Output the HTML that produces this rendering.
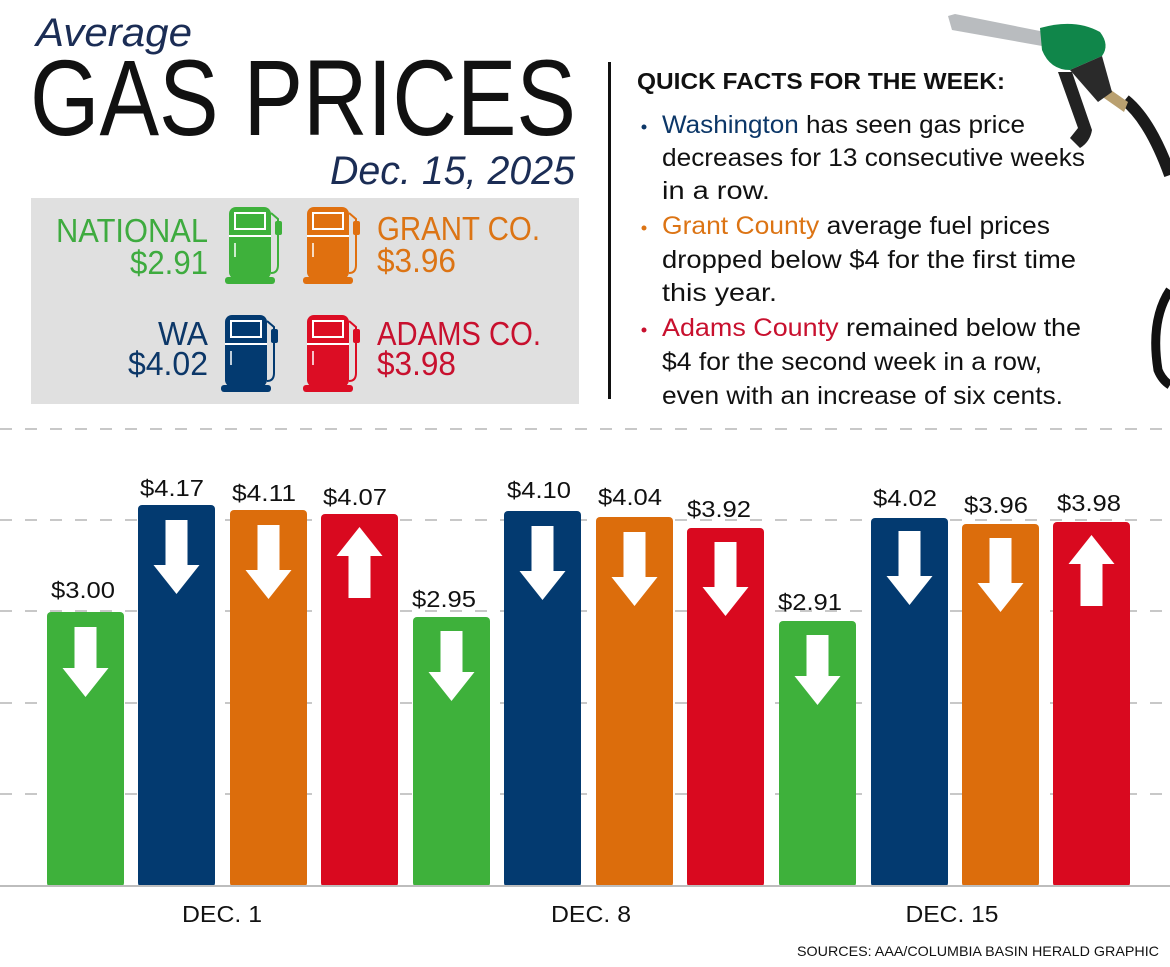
<!DOCTYPE html>
<html><head><meta charset="utf-8"><style>
html,body{margin:0;padding:0;background:#fff;}
svg{display:block;font-family:"Liberation Sans Narrow","Liberation Sans",sans-serif;}
</style></head><body>
<svg width="1170" height="967" viewBox="0 0 1170 967" xmlns="http://www.w3.org/2000/svg">
<defs>
<g id="pump">
  <rect x="4" y="0" width="42" height="72" rx="7" fill="currentColor"/>
  <rect x="10" y="6" width="30" height="16" fill="none" stroke="#fff" stroke-width="2"/>
  <line x1="4" y1="29" x2="46" y2="29" stroke="#fff" stroke-width="2"/>
  <line x1="10" y1="36" x2="10" y2="50" stroke="#fff" stroke-width="1.5"/>
  <rect x="0" y="70" width="50" height="7" rx="3" fill="currentColor"/>
  <path d="M46 6 L53 12 L53 58 Q53 66 46 66" fill="none" stroke="currentColor" stroke-width="2"/>
  <rect x="50" y="14" width="7" height="14" rx="2" fill="currentColor"/>
</g>
</defs>

<!-- Header -->
<text x="36" y="46" font-size="40" font-style="italic" fill="#1b2d55" font-family="Liberation Sans, sans-serif" textLength="156" lengthAdjust="spacingAndGlyphs">Average</text>
<text x="30" y="135" font-size="108" fill="#111" font-family="Liberation Sans, sans-serif" textLength="546" lengthAdjust="spacingAndGlyphs">GAS PRICES</text>
<text x="575" y="184" font-size="40" font-style="italic" fill="#1b2d55" text-anchor="end" font-family="Liberation Sans, sans-serif" textLength="245" lengthAdjust="spacingAndGlyphs">Dec. 15, 2025</text>

<!-- Gray box -->
<rect x="31" y="198" width="548" height="206" fill="#e0e0e0"/>
<text x="208" y="242" font-size="33" fill="#3eab3f" text-anchor="end" textLength="152" lengthAdjust="spacingAndGlyphs">NATIONAL</text>
<text x="208" y="274" font-size="33" fill="#3eab3f" text-anchor="end" textLength="78" lengthAdjust="spacingAndGlyphs">$2.91</text>
<text x="208" y="345" font-size="33" fill="#0c3768" text-anchor="end" textLength="50" lengthAdjust="spacingAndGlyphs">WA</text>
<text x="208" y="375" font-size="33" fill="#0c3768" text-anchor="end" textLength="80" lengthAdjust="spacingAndGlyphs">$4.02</text>
<text x="377" y="240" font-size="33" fill="#dc7414" textLength="163" lengthAdjust="spacingAndGlyphs">GRANT CO.</text>
<text x="377" y="272" font-size="33" fill="#dc7414" textLength="79" lengthAdjust="spacingAndGlyphs">$3.96</text>
<text x="377" y="345" font-size="33" fill="#c8102e" textLength="164" lengthAdjust="spacingAndGlyphs">ADAMS CO.</text>
<text x="377" y="375" font-size="33" fill="#c8102e" textLength="79" lengthAdjust="spacingAndGlyphs">$3.98</text>
<use href="#pump" x="225" y="207" style="color:#3eb13b"/>
<use href="#pump" x="303" y="207" style="color:#e0700f"/>
<use href="#pump" x="221" y="315" style="color:#033a70"/>
<use href="#pump" x="303" y="315" style="color:#dc0d24"/>

<!-- divider -->
<rect x="608" y="62" width="3" height="337" fill="#111"/>

<!-- Quick facts -->
<text x="637" y="89" font-size="23" font-weight="bold" fill="#111" textLength="368" lengthAdjust="spacingAndGlyphs">QUICK FACTS FOR THE WEEK:</text>
<g font-size="25" fill="#111">
<circle cx="644" cy="127" r="2.5" fill="#0c3768"/>
<text x="662" y="133" textLength="363" lengthAdjust="spacingAndGlyphs"><tspan fill="#0c3768">Washington</tspan> has seen gas price</text>
<text x="662" y="166" textLength="423" lengthAdjust="spacingAndGlyphs">decreases for 13 consecutive weeks</text>
<text x="662" y="199" textLength="108" lengthAdjust="spacingAndGlyphs">in a row.</text>
<circle cx="644" cy="228" r="2.5" fill="#dc7414"/>
<text x="662" y="234" textLength="388" lengthAdjust="spacingAndGlyphs"><tspan fill="#dc7414">Grant County</tspan> average fuel prices</text>
<text x="662" y="268" textLength="414" lengthAdjust="spacingAndGlyphs">dropped below $4 for the first time</text>
<text x="662" y="301" textLength="115" lengthAdjust="spacingAndGlyphs">this year.</text>
<circle cx="644" cy="330" r="2.5" fill="#c8102e"/>
<text x="662" y="336" textLength="419" lengthAdjust="spacingAndGlyphs"><tspan fill="#c8102e">Adams County</tspan> remained below the</text>
<text x="662" y="370" textLength="380" lengthAdjust="spacingAndGlyphs">$4 for the second week in a row,</text>
<text x="662" y="404" textLength="401" lengthAdjust="spacingAndGlyphs">even with an increase of six cents.</text>
</g>

<!-- Nozzle illustration -->
<path d="M1125 100 Q1150 120 1170 175" fill="none" stroke="#1a1a1a" stroke-width="12"/>
<path d="M1108 88 L1128 102 L1124 112 L1104 98 Z" fill="#b9a070"/>
<path d="M948 16 L955 14 L1045 32 L1042 46 L952 30 Z" fill="#b9bcbf"/>
<path d="M1040 28 Q1075 18 1100 32 Q1110 45 1102 56 L1070 70 Q1050 70 1042 50 Z" fill="#10864a"/>
<path d="M1070 70 L1102 56 L1112 92 L1098 102 Z" fill="#2a2a2a"/>
<path d="M1058 72 L1072 72 L1092 130 Q1090 142 1080 148 L1070 138 L1078 128 Z" fill="#222"/>
<path d="M1170 290 Q1150 320 1158 370 Q1162 380 1170 385" fill="none" stroke="#111" stroke-width="9"/>

<!-- Grid -->
<g stroke="#c8c8c8" stroke-width="2" stroke-dasharray="12 13">
<line x1="0" y1="429" x2="1170" y2="429"/>
<line x1="0" y1="520" x2="1170" y2="520"/>
<line x1="0" y1="611" x2="1170" y2="611"/>
<line x1="0" y1="703" x2="1170" y2="703"/>
<line x1="0" y1="794" x2="1170" y2="794"/>
</g>

<!-- Bars -->
<g>
<rect x="47" y="612" width="77" height="275" rx="4" fill="#3eb13b"/>
<rect x="138" y="505" width="77" height="382" rx="4" fill="#033a70"/>
<rect x="230" y="510" width="77" height="377" rx="4" fill="#dc6d0c"/>
<rect x="321" y="514" width="77" height="373" rx="4" fill="#d9091f"/>
<rect x="413" y="617" width="77" height="270" rx="4" fill="#3eb13b"/>
<rect x="504" y="511" width="77" height="376" rx="4" fill="#033a70"/>
<rect x="596" y="517" width="77" height="370" rx="4" fill="#dc6d0c"/>
<rect x="687" y="528" width="77" height="359" rx="4" fill="#d9091f"/>
<rect x="779" y="621" width="77" height="266" rx="4" fill="#3eb13b"/>
<rect x="871" y="518" width="77" height="369" rx="4" fill="#033a70"/>
<rect x="962" y="524" width="77" height="363" rx="4" fill="#dc6d0c"/>
<rect x="1053" y="522" width="77" height="365" rx="4" fill="#d9091f"/>
</g>
<line x1="0" y1="886" x2="1170" y2="886" stroke="#bdbdbd" stroke-width="2"/>

<!-- Arrows -->
<g fill="#fff">
<path d="M74.5 627 h22 v41 h12 l-23 29 l-23 -29 h12 z"/>
<path d="M165.5 520 h22 v45 h12 l-23 29 l-23 -29 h12 z"/>
<path d="M257.5 525 h22 v45 h12 l-23 29 l-23 -29 h12 z"/>
<path d="M359.5 527 l23 29 h-12 v42 h-22 v-42 h-12 z"/>
<path d="M440.5 631 h22 v41 h12 l-23 29 l-23 -29 h12 z"/>
<path d="M531.5 526 h22 v45 h12 l-23 29 l-23 -29 h12 z"/>
<path d="M623.5 532 h22 v45 h12 l-23 29 l-23 -29 h12 z"/>
<path d="M714.5 542 h22 v45 h12 l-23 29 l-23 -29 h12 z"/>
<path d="M806.5 635 h22 v41 h12 l-23 29 l-23 -29 h12 z"/>
<path d="M898.5 531 h22 v45 h12 l-23 29 l-23 -29 h12 z"/>
<path d="M989.5 538 h22 v45 h12 l-23 29 l-23 -29 h12 z"/>
<path d="M1091.5 535 l23 29 h-12 v42 h-22 v-42 h-12 z"/>
</g>

<!-- Value labels -->
<g font-size="23" fill="#111" text-anchor="middle">
<text x="83" y="598" textLength="64" lengthAdjust="spacingAndGlyphs">$3.00</text>
<text x="172" y="496" textLength="64" lengthAdjust="spacingAndGlyphs">$4.17</text>
<text x="264" y="501" textLength="64" lengthAdjust="spacingAndGlyphs">$4.11</text>
<text x="355" y="505" textLength="64" lengthAdjust="spacingAndGlyphs">$4.07</text>
<text x="444" y="607" textLength="64" lengthAdjust="spacingAndGlyphs">$2.95</text>
<text x="539" y="498" textLength="64" lengthAdjust="spacingAndGlyphs">$4.10</text>
<text x="630" y="505" textLength="64" lengthAdjust="spacingAndGlyphs">$4.04</text>
<text x="719" y="517" textLength="64" lengthAdjust="spacingAndGlyphs">$3.92</text>
<text x="810" y="610" textLength="64" lengthAdjust="spacingAndGlyphs">$2.91</text>
<text x="905" y="506" textLength="64" lengthAdjust="spacingAndGlyphs">$4.02</text>
<text x="996" y="513" textLength="64" lengthAdjust="spacingAndGlyphs">$3.96</text>
<text x="1089" y="511" textLength="64" lengthAdjust="spacingAndGlyphs">$3.98</text>
</g>

<!-- Category labels -->
<g font-size="23" fill="#111" text-anchor="middle">
<text x="222" y="922" textLength="80" lengthAdjust="spacingAndGlyphs">DEC. 1</text>
<text x="591" y="922" textLength="80" lengthAdjust="spacingAndGlyphs">DEC. 8</text>
<text x="952" y="922" textLength="93" lengthAdjust="spacingAndGlyphs">DEC. 15</text>
</g>
<text x="1159" y="956" font-size="14" fill="#111" text-anchor="end" font-family="Liberation Sans, sans-serif" textLength="362" lengthAdjust="spacingAndGlyphs">SOURCES: AAA/COLUMBIA BASIN HERALD GRAPHIC</text>
</svg>
</body></html>
